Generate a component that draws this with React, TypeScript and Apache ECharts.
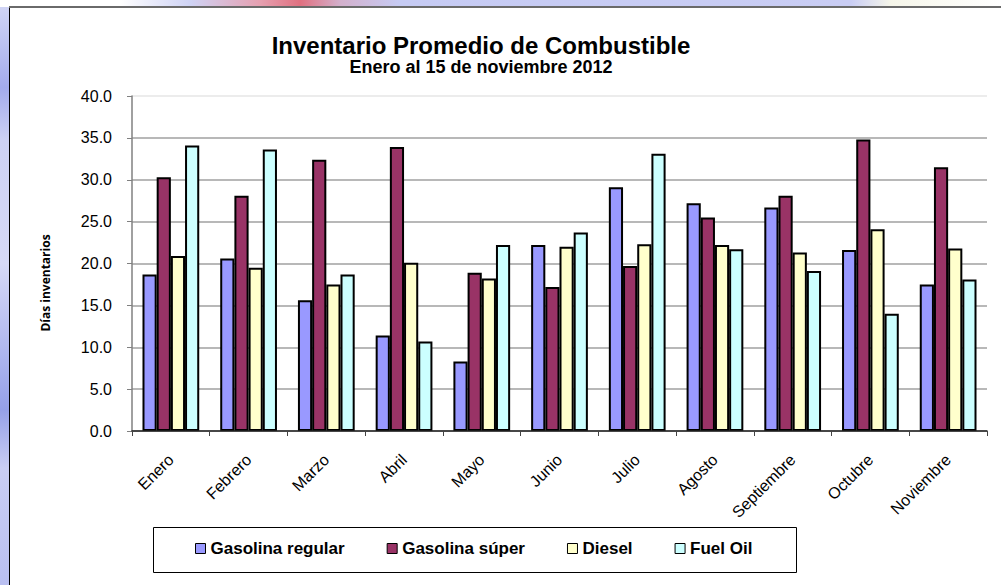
import React, { useEffect, useRef } from 'react';
import * as echarts from 'echarts';

const categories = ['Enero', 'Febrero', 'Marzo', 'Abril', 'Mayo', 'Junio', 'Julio', 'Agosto', 'Septiembre', 'Octubre', 'Noviembre'];
const seriesNames = ['Gasolina regular', 'Gasolina súper', 'Diesel', 'Fuel Oil'];
const gasolinaRegular = [18.7, 20.6, 15.6, 11.4, 8.3, 22.2, 29.1, 27.2, 26.7, 21.6, 17.5];
const gasolinaSuper = [30.3, 28.1, 32.4, 33.9, 18.9, 17.2, 19.7, 25.5, 28.1, 34.8, 31.5];
const diesel = [20.9, 19.5, 17.5, 20.1, 18.2, 22.0, 22.3, 22.2, 21.3, 24.1, 21.8];
const fuelOil = [34.1, 33.6, 18.7, 10.7, 22.2, 23.7, 33.1, 21.7, 19.1, 14.0, 18.1];
const seriesColors = ['#9999FF', '#993366', '#FFFFCC', '#CCFFFF'];
const titleText = 'Inventario Promedio de Combustible';
const subtitleText = 'Enero al 15 de noviembre 2012';
const yAxisName = 'Días inventarios';

const FONT = '"Liberation Sans", Arial, sans-serif';

export default function App() {
  const ref = useRef<HTMLDivElement>(null);
  useEffect(() => {
    document.body.style.margin = '0';
    const chart = echarts.init(ref.current as HTMLDivElement, null, { renderer: 'svg' });
    const allData = [gasolinaRegular, gasolinaSuper, diesel, fuelOil];
    const gridColors = ['#a0a0a0', '#a0a0a0', '#a0a0a0', '#a0a0a0', '#a0a0a0', '#a0a0a0', '#a0a0a0', '#a0a0a0', '#e6e6e6'];
    chart.setOption({
      animation: false,
      backgroundColor: '#ffffff',
      textStyle: { fontFamily: FONT },
      grid: { left: 132, right: 14, top: 96, bottom: 154, containLabel: false, outerBoundsMode: 'none' },
      xAxis: {
        type: 'category',
        data: categories,
        axisLine: { lineStyle: { color: '#222', width: 1.5 } },
        axisTick: { show: true, length: 5, lineStyle: { color: '#444' } },
        axisLabel: { rotate: 45, margin: 26, fontSize: 16, color: '#000', interval: 0, fontFamily: FONT },
        z: 5,
      },
      yAxis: {
        type: 'value',
        min: 0,
        max: 40,
        interval: 5,
        axisLine: { show: true, lineStyle: { color: '#808080', width: 1.5 } },
        axisTick: { show: true, length: 5, lineStyle: { color: '#808080' } },
        axisLabel: { formatter: (v: number) => v.toFixed(1), margin: 20, fontSize: 16, color: '#000', fontFamily: FONT },
        splitLine: { show: true, lineStyle: { color: gridColors, width: 1.5 } },
      },
      legend: {
        data: seriesNames,
        left: 190,
        top: 535,
        icon: 'rect',
        itemWidth: 10,
        itemHeight: 10,
        itemGap: 42,
        itemStyle: { borderColor: '#000', borderWidth: 1 },
        textStyle: { fontWeight: 'bold', fontSize: 17, color: '#000', fontFamily: FONT },
      },
      graphic: [
        {
          type: 'rect',
          shape: { x: 0, y: 0, width: 9, height: 585 },
          style: {
            fill: {
              type: 'linear', x: 0, y: 0, x2: 0, y2: 1,
              colorStops: [
                { offset: 0, color: '#d4d8f6' },
                { offset: 0.15, color: '#a3abec' },
                { offset: 0.24, color: '#cdd1f4' },
                { offset: 0.45, color: '#d6d9f6' },
                { offset: 0.62, color: '#aab2ee' },
                { offset: 0.7, color: '#95a0e8' },
                { offset: 0.8, color: '#c9cdf3' },
                { offset: 1, color: '#b9bff1' },
              ],
            },
          },
          silent: true,
        },
        {
          type: 'rect',
          shape: { x: 0, y: 0, width: 1001, height: 7 },
          style: {
            fill: {
              type: 'linear', x: 0, y: 0, x2: 1, y2: 0,
              colorStops: [
                { offset: 0, color: '#ffffff' },
                { offset: 0.12, color: '#ffffff' },
                { offset: 0.19, color: '#cfd3f5' },
                { offset: 0.26, color: '#e6a0b0' },
                { offset: 0.3, color: '#e07080' },
                { offset: 0.34, color: '#d3b0cc' },
                { offset: 0.4, color: '#c6cbf4' },
                { offset: 0.85, color: '#c9cdf4' },
                { offset: 0.89, color: '#f6f6ea' },
                { offset: 1, color: '#ffffff' },
              ],
            },
          },
          silent: true,
        },
        {
          type: 'line',
          shape: { x1: 9.5, y1: 7, x2: 9.5, y2: 585 },
          style: { stroke: '#000', lineWidth: 1 },
          silent: true,
        },
        {
          type: 'line',
          shape: { x1: 9, y1: 7, x2: 1001, y2: 7 },
          style: { stroke: '#6a6a6a', lineWidth: 2 },
          silent: true,
        },
        {
          type: 'text',
          x: 481,
          y: 45,
          style: { text: titleText, font: `bold 24px ${FONT}`, fill: '#000', align: 'center', verticalAlign: 'middle' },
        },
        {
          type: 'text',
          x: 481,
          y: 67,
          style: { text: subtitleText, font: `bold 18px ${FONT}`, fill: '#000', align: 'center', verticalAlign: 'middle' },
        },
        {
          type: 'text',
          x: 45,
          y: 283,
          rotation: Math.PI / 2,
          style: { text: yAxisName, font: 'bold 12px "Open Sans", sans-serif', fill: '#000', align: 'center', verticalAlign: 'middle' },
        },
        {
          type: 'rect',
          shape: { x: 153.5, y: 527.5, width: 643, height: 45 },
          style: { fill: 'none', stroke: '#000', lineWidth: 1 },
          silent: true,
        },
      ],
      series: seriesNames.map((name, i) => ({
        name,
        type: 'bar',
        data: allData[i],
        barGap: '0%',
        barCategoryGap: '27%',
        itemStyle: { color: seriesColors[i], borderColor: '#000', borderWidth: 2 },
      })),
    });
    return () => chart.dispose();
  }, []);
  return <div ref={ref} style={{ width: 1001, height: 585 }} />;
}
